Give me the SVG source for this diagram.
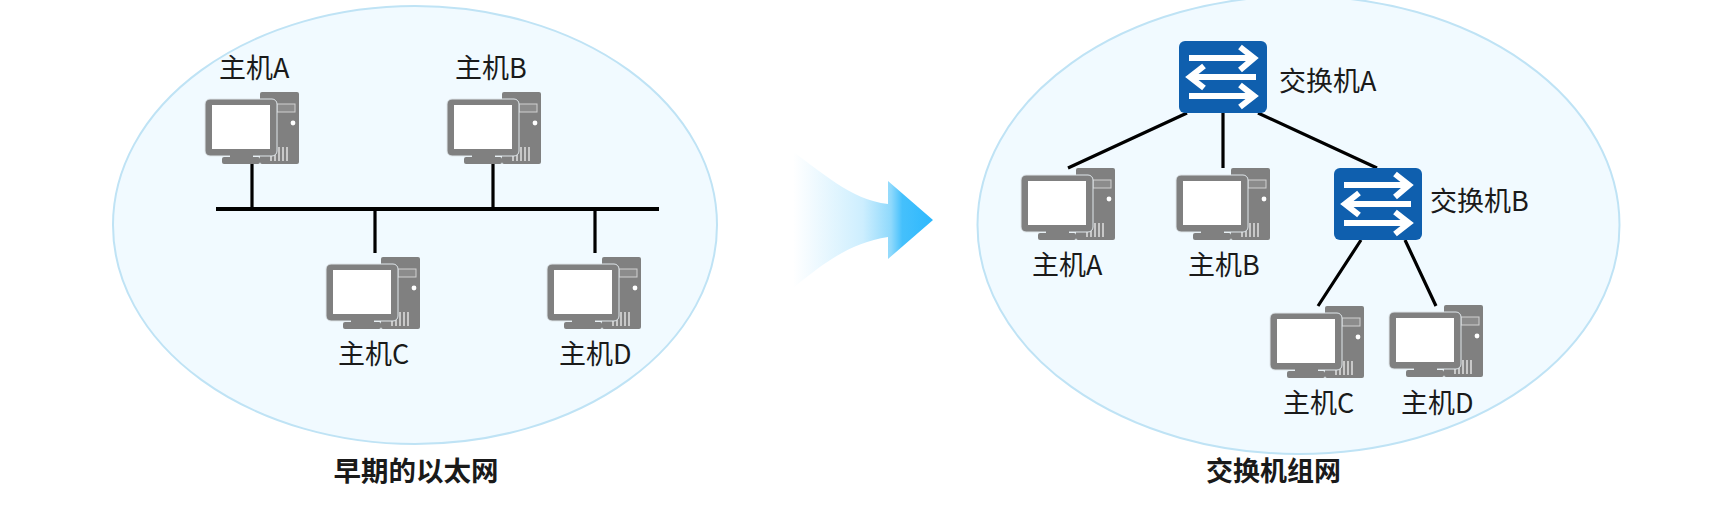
<svg xmlns="http://www.w3.org/2000/svg" xmlns:xlink="http://www.w3.org/1999/xlink" width="1718" height="512" viewBox="0 0 1718 512">
<style>
.cloud{fill:#f1faff;stroke:#bfe3f5;stroke-width:2}
.lbl{font-family:"Noto Sans CJK SC","Liberation Sans",sans-serif;font-size:27px;fill:#1a1a1a}
.ttl{font-family:"Noto Sans CJK SC","Liberation Sans",sans-serif;font-size:27px;font-weight:700;fill:#1a1a1a;text-anchor:middle}
.wire{stroke:#000;stroke-width:3.200;fill:none}
.g{fill:#808080}
</style>
<defs>
<linearGradient id="ag" x1="793" y1="0" x2="933" y2="0" gradientUnits="userSpaceOnUse">
<stop offset="0" stop-color="#fff"/><stop offset="0.5" stop-color="#cdeefe"/><stop offset="0.7" stop-color="#8fd9fc"/><stop offset="0.78" stop-color="#45c0fc"/><stop offset="1" stop-color="#2db8fd"/>
</linearGradient>
<g id="pc">
<rect class="g" x="55" y="0" width="39" height="72" rx="2"/>
<rect x="72" y="12" width="18" height="8" fill="#8c8c8c" stroke="#d0d0d0" stroke-width="1"/>
<circle cx="88" cy="31" r="2.400" fill="#fff"/>
<path d="M66 55v14M70 55v14M74 55v14M78 55v14M82 55v14" stroke="#e0e0e0" stroke-width="1.500" fill="none"/>
<rect x="0" y="7" width="72" height="57" rx="5" class="g" stroke="#dfe6ea" stroke-width="1"/>
<rect x="7" y="13" width="58" height="44" fill="#fff"/>
<rect x="25" y="63" width="23" height="3" class="g"/>
<rect x="17" y="65" width="38" height="7" rx="2" class="g"/>
</g>
<g id="sw">
<rect x="0" y="0" width="88" height="72" rx="6" fill="#0f5fae"/>
<path d="M10 17H75M61 6L75 17L61 29M11 36H77M25 25L11 36L25 47M10 55H75M61 44L75 55L61 66" fill="none" stroke="#fff" stroke-width="6"/>
</g>
</defs>
<g id="clouds">
<ellipse id="cloud-left" class="cloud" cx="415" cy="225" rx="302" ry="219"/>
<ellipse id="cloud-right" class="cloud" cx="1298.500" cy="225" rx="321" ry="229"/>
</g>
<path id="transition-arrow" fill="url(#ag)" d="M793 152C820 170 850 200 888 204V181L933 220L888 259V237C850 243 825 262 793 288Z"/>
<g id="connectors">
<path class="wire" style="stroke-width:3.800" d="M216 209H659"/>
<path class="wire" d="M252 164V209M493 164V209M375 209V253M595 209V253"/>
<path class="wire" d="M1187 113L1068 168M1223 113V168M1258 113L1377 168M1361 240L1318 306M1405 240L1436 306"/>
</g>
<g id="left-host-a"><use xlink:href="#pc" href="#pc" x="205" y="92"/><text class="lbl" x="219" y="78">主机A</text></g>
<g id="left-host-b"><use xlink:href="#pc" href="#pc" x="447" y="92"/><text class="lbl" x="455" y="78">主机B</text></g>
<g id="left-host-c"><use xlink:href="#pc" href="#pc" x="326" y="257"/><text class="lbl" x="338" y="364">主机C</text></g>
<g id="left-host-d"><use xlink:href="#pc" href="#pc" x="547" y="257"/><text class="lbl" x="559" y="364">主机D</text></g>
<g id="switch-a"><use xlink:href="#sw" href="#sw" x="1179" y="41"/><text class="lbl" x="1279" y="91">交换机A</text></g>
<g id="switch-b"><use xlink:href="#sw" href="#sw" x="1334" y="168"/><text class="lbl" x="1430" y="211">交换机B</text></g>
<g id="right-host-a"><use xlink:href="#pc" href="#pc" x="1021" y="168"/><text class="lbl" x="1032" y="275">主机A</text></g>
<g id="right-host-b"><use xlink:href="#pc" href="#pc" x="1176" y="168"/><text class="lbl" x="1188" y="275">主机B</text></g>
<g id="right-host-c"><use xlink:href="#pc" href="#pc" x="1270" y="306"/><text class="lbl" x="1283" y="413">主机C</text></g>
<g id="right-host-d"><use xlink:href="#pc" href="#pc" x="1389" y="305"/><text class="lbl" x="1401" y="413">主机D</text></g>
<text id="title-left" class="ttl" x="416" y="481" style="font-size:27.500px">早期的以太网</text>
<text id="title-right" class="ttl" x="1273.500" y="481">交换机组网</text>
</svg>
